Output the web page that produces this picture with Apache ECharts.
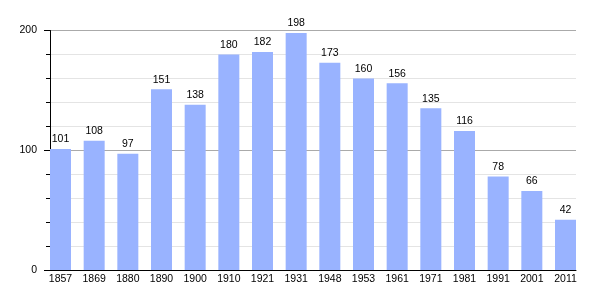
<!DOCTYPE html>
<html><head><meta charset="utf-8">
<script src="https://cdn.jsdelivr.net/npm/echarts@6/dist/echarts.min.js"></script>
<style>html,body{margin:0;padding:0;background:#fff}#c{width:605px;height:300px}</style>
</head><body><div id="c"></div>
<script>
const years = ['1857','1869','1880','1890','1900','1910','1921','1931','1948','1953','1961','1971','1981','1991','2001','2011'];
const population = [101,108,97,151,138,180,182,198,173,160,156,135,116,78,66,42];
const yTicks = [0,100,200];

const FONT = 'Liberation Sans, Arial, sans-serif';
const chart = echarts.init(document.getElementById('c'), null, {renderer:'canvas'});
chart.setOption({
  animation:false,
  grid:[
    {left:43.67, right:22.67, top:30.5, bottom:30},
    {left:50, right:29, top:30.5, bottom:30}
  ],
  xAxis:[
    {type:'category', gridIndex:0, data:years, axisLine:{show:false}, axisTick:{show:false},
     axisLabel:{color:'#000', fontSize:10.5, fontFamily:FONT, margin:4}},
    {type:'value', gridIndex:1, min:0, max:1, axisLine:{show:true, lineStyle:{color:'#000', width:1}},
     axisTick:{show:false}, axisLabel:{show:false}, splitLine:{show:false}}
  ],
  yAxis:[
    {type:'value', gridIndex:0, min:0, max:200, show:false},
    {type:'value', gridIndex:1, min:yTicks[0], max:yTicks[yTicks.length-1], interval:100,
     axisLine:{show:true, lineStyle:{color:'#000', width:1}},
     axisTick:{show:true, length:6, lineStyle:{color:'#000'}},
     minorTick:{show:true, splitNumber:5, length:4, lineStyle:{color:'#000'}},
     axisLabel:{color:'#000', fontSize:10.5, fontFamily:FONT, margin:13},
     splitLine:{show:true, lineStyle:{color:'#aaaaaa', width:1}},
     minorSplitLine:{show:true, lineStyle:{color:'#e4e4e4', width:1}}}
  ],
  series:[{
    type:'bar', xAxisIndex:0, yAxisIndex:0, data:population, barWidth:21,
    itemStyle:{color:'#99b3ff'},
    label:{show:true, position:'top', distance:4, color:'#000', fontSize:10.5, fontFamily:FONT}
  }]
});
</script></body></html>
